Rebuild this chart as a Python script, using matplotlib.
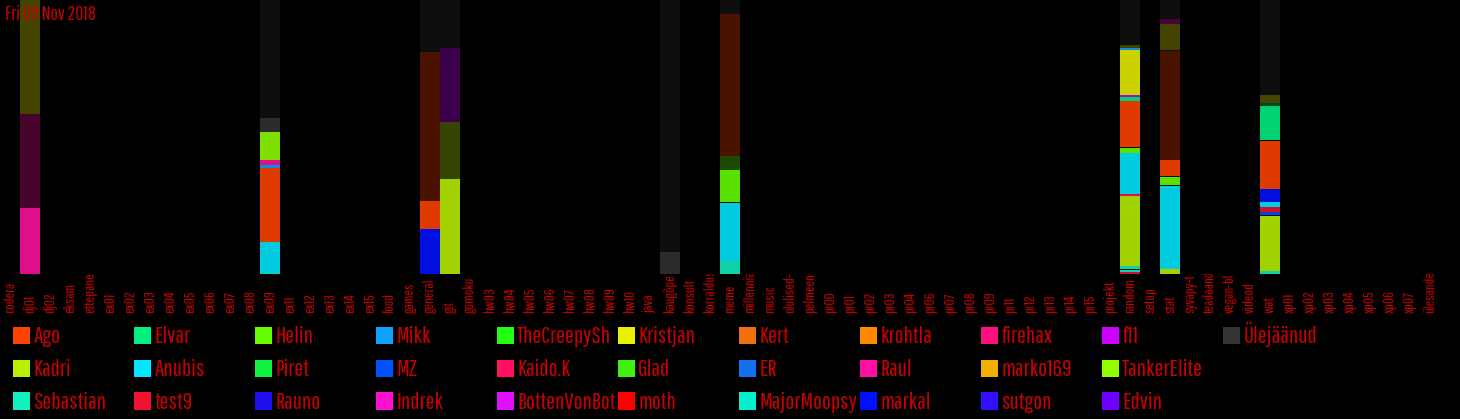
# Kanalite aktiivsus: tulpdiagramm (Fri 09 Nov 2018)

import matplotlib
matplotlib.use("Agg")
import matplotlib.pyplot as plt
from matplotlib.patches import Rectangle
from matplotlib.transforms import Bbox, TransformedBbox, blended_transform_factory

# 0) Data

date_label = "Fri 09 Nov 2018"

channels = [
    "codera", "dj01", "dj02", "eksam", "ettepanek", "ex01", "ex02", "ex03", "ex04",
    "ex05", "ex06", "ex07", "ex08", "ex09", "ex11", "ex12", "ex13", "ex14", "ex15",
    "food", "games", "general", "git", "gomoku", "hw03", "hw04", "hw05", "hw06",
    "hw07", "hw08", "hw09", "hw10", "java", "kaugõpe", "konsult", "korraldus",
    "meme", "millenniali", "music", "olulised-t", "pelmeeni-", "pr00", "pr01",
    "pr02", "pr03", "pr04", "pr06", "pr07", "pr08", "pr09", "pr11", "pr12", "pr13",
    "pr14", "pr15", "projekt", "random", "setup", "stat", "syvapy-t", "teadaand",
    "vegan-bl", "videod", "wat", "xp01", "xp02", "xp03", "xp04", "xp05", "xp06",
    "xp07", "ülesanded",
]

# legend, column by column (as shown in the picture)
legend_columns = [
    ["Ago", "Kadri", "Sebastian"],
    ["Elvar", "Anubis", "test9"],
    ["Helin", "Piret", "Rauno"],
    ["Mikk", "MZ", "Indrek"],
    ["TheCreepySh", "Kaido.K", "BottenVonBot"],
    ["Kristjan", "Glad", "moth"],
    ["Kert", "ER", "MajorMoopsy"],
    ["krohtla", "Raul", "markal"],
    ["firehax", "marko169", "sutgon"],
    ["f11", "TankerElite", "Edvin"],
    ["Ülejäänud"],
]

# segments per channel, bottom to top: (user, share %, earlier=1)
seg_dj01 = [("Raul", 24.1, 0), ("Raul", 34.3, 1), ("Kristjan", 41.6, 1)]
seg_ex09 = [("Sebastian", 0.4, 0), ("Anubis", 11.3, 0), ("Ago", 27.0, 0), ("Mikk", 1.1, 0),
            ("Raul", 1.8, 0), ("TankerElite", 10.2, 0), ("Ülejäänud", 5.1, 0),
            ("Ülejäänud", 43.1, 1)]
seg_general = [("markal", 16.4, 0), ("Ago", 10.2, 0), ("Ago", 54.4, 1), ("Ülejäänud", 19.0, 1)]
seg_git = [("Kadri", 34.7, 0), ("Kadri", 20.8, 1), ("f11", 27.0, 1), ("Ülejäänud", 17.5, 1)]
seg_kaugope = [("Ülejäänud", 8.0, 0), ("Ülejäänud", 92.0, 1)]
seg_meme = [("Sebastian", 4.7, 0), ("Anubis", 21.2, 0), ("Ülejäänud", 0.4, 1), ("Helin", 11.7, 0),
            ("Helin", 5.1, 1), ("Ago", 51.8, 1), ("Ülejäänud", 5.1, 1)]
seg_random = [("test9", 0.7, 0), ("Sebastian", 0.7, 0), ("Ülejäänud", 0.4, 1), ("Sebastian", 1.1, 0),
              ("Kadri", 25.5, 0), ("Kaido.K", 0.7, 0), ("Anubis", 15.0, 0), ("Helin", 1.8, 0),
              ("Ülejäänud", 0.4, 1), ("Ago", 16.8, 0), ("Elvar", 1.5, 0), ("f11", 0.7, 0),
              ("Kristjan", 16.4, 0), ("Mikk", 0.7, 0), ("Kadri", 1.1, 1), ("Ülejäänud", 16.5, 1)]
seg_stat = [("Kadri", 1.8, 0), ("Anubis", 30.3, 0), ("Ülejäänud", 0.4, 1), ("Helin", 2.9, 0),
            ("Ülejäänud", 0.4, 1), ("Ago", 5.8, 0), ("Ago", 39.8, 1), ("Ülejäänud", 0.4, 1),
            ("Kristjan", 9.5, 1), ("Indrek", 1.8, 1), ("Ülejäänud", 6.9, 1)]
seg_wat = [("Sebastian", 1.1, 0), ("Kadri", 20.1, 0), ("Ülejäänud", 0.4, 1), ("MZ", 1.1, 0),
           ("test9", 1.8, 0), ("Anubis", 1.8, 0), ("markal", 4.7, 0), ("Ago", 17.5, 0),
           ("Ülejäänud", 0.4, 1), ("Elvar", 12.4, 0), ("Elvar", 1.1, 1), ("Kristjan", 2.9, 1),
           ("Ülejäänud", 34.7, 1)]

segments = {
    "dj01": seg_dj01, "ex09": seg_ex09, "general": seg_general, "git": seg_git,
    "kaugõpe": seg_kaugope, "meme": seg_meme, "random": seg_random, "stat": seg_stat,
    "wat": seg_wat,
}

# 1) Styles

user_colors = {
    "Ago": "#ff4400", "Kadri": "#b8f000", "Sebastian": "#10f0c0",
    "Elvar": "#00f080", "Anubis": "#00e8ff", "test9": "#f01030",
    "Helin": "#66ff00", "Piret": "#10f040", "Rauno": "#2010f0",
    "Mikk": "#10a0ff", "MZ": "#0050ff", "Indrek": "#ff10d0",
    "TheCreepySh": "#20ff10", "Kaido.K": "#ff1060", "BottenVonBot": "#e010ff",
    "Kristjan": "#e8f000", "Glad": "#40f010", "moth": "#ff0000",
    "Kert": "#f07010", "ER": "#1070f0", "MajorMoopsy": "#00f0d0",
    "krohtla": "#ff8800", "Raul": "#ff10a0", "markal": "#0010ff",
    "firehax": "#ff1080", "marko169": "#f0b000", "sutgon": "#3010ff",
    "f11": "#cc00ff", "TankerElite": "#90ff00", "Edvin": "#7000ff",
    "Ülejäänud": "#333333",
}
TEXT_RED = "#c80000"
W, H = 1460, 419

plt.rcParams["font.family"] = ["Pathway Gothic One", "Archivo Narrow", "DejaVu Sans"]

fig = plt.figure(figsize=(W / 100, H / 100), dpi=100, facecolor="black")
ax = fig.add_axes([0, 145 / H, 1440 / W, 274 / H])
ax.set_facecolor("black")

for i, ch in enumerate(channels):
    bottom = 0.0
    for user, share, earlier in segments.get(ch, []):
        ax.bar(i, share, bottom=bottom, width=1.0, color=user_colors[user],
               alpha=0.29 if earlier else 0.88, linewidth=0)
        bottom += share

ax.set_xlim(-0.5, len(channels) - 0.5)
ax.set_ylim(0, 100)
ax.set_xticks([])
ax.set_yticks([])
for s in ax.spines.values():
    s.set_visible(False)

# channel names, written upward and cut at the axis line
lab_clip = TransformedBbox(Bbox.from_extents(0, 0, 1, 145 / H), fig.transFigure)
trans = blended_transform_factory(ax.transData, ax.transAxes)
for i, ch in enumerate(channels):
    t = ax.text(i, -39 / 274, ch, transform=trans, rotation=90, ha="center", va="bottom",
                fontsize=10.5, color=TEXT_RED, clip_on=True)
    t.set_clip_box(lab_clip)

fig.text(5 / W, 1 - 20 / H, date_label, fontsize=14, color=TEXT_RED, va="baseline")

# legend grid drawn by hand (fixed column width, names cut at next box)
col_step, box = 121, 17.5
row_y = [344, 377, 409.5]  # box bottoms, px from top
for c, col in enumerate(legend_columns):
    x0 = 12.7 + c * col_step
    for r, user in enumerate(col):
        yb = row_y[r]
        fig.add_artist(Rectangle((x0 / W, 1 - yb / H), box / W, box / H,
                                 transform=fig.transFigure, color=user_colors[user],
                                 linewidth=0, zorder=3))
        t = fig.text((x0 + box + 3) / W, 1 - (yb - 1) / H, user, fontsize=17,
                     color=TEXT_RED, va="baseline", zorder=2)
        t.set_clip_box(TransformedBbox(
            Bbox.from_extents((x0 + box) / W, 0, (x0 + col_step) / W, 1), fig.transFigure))
        t.set_clip_on(True)

fig.savefig("out.png", dpi=100, facecolor="black")
